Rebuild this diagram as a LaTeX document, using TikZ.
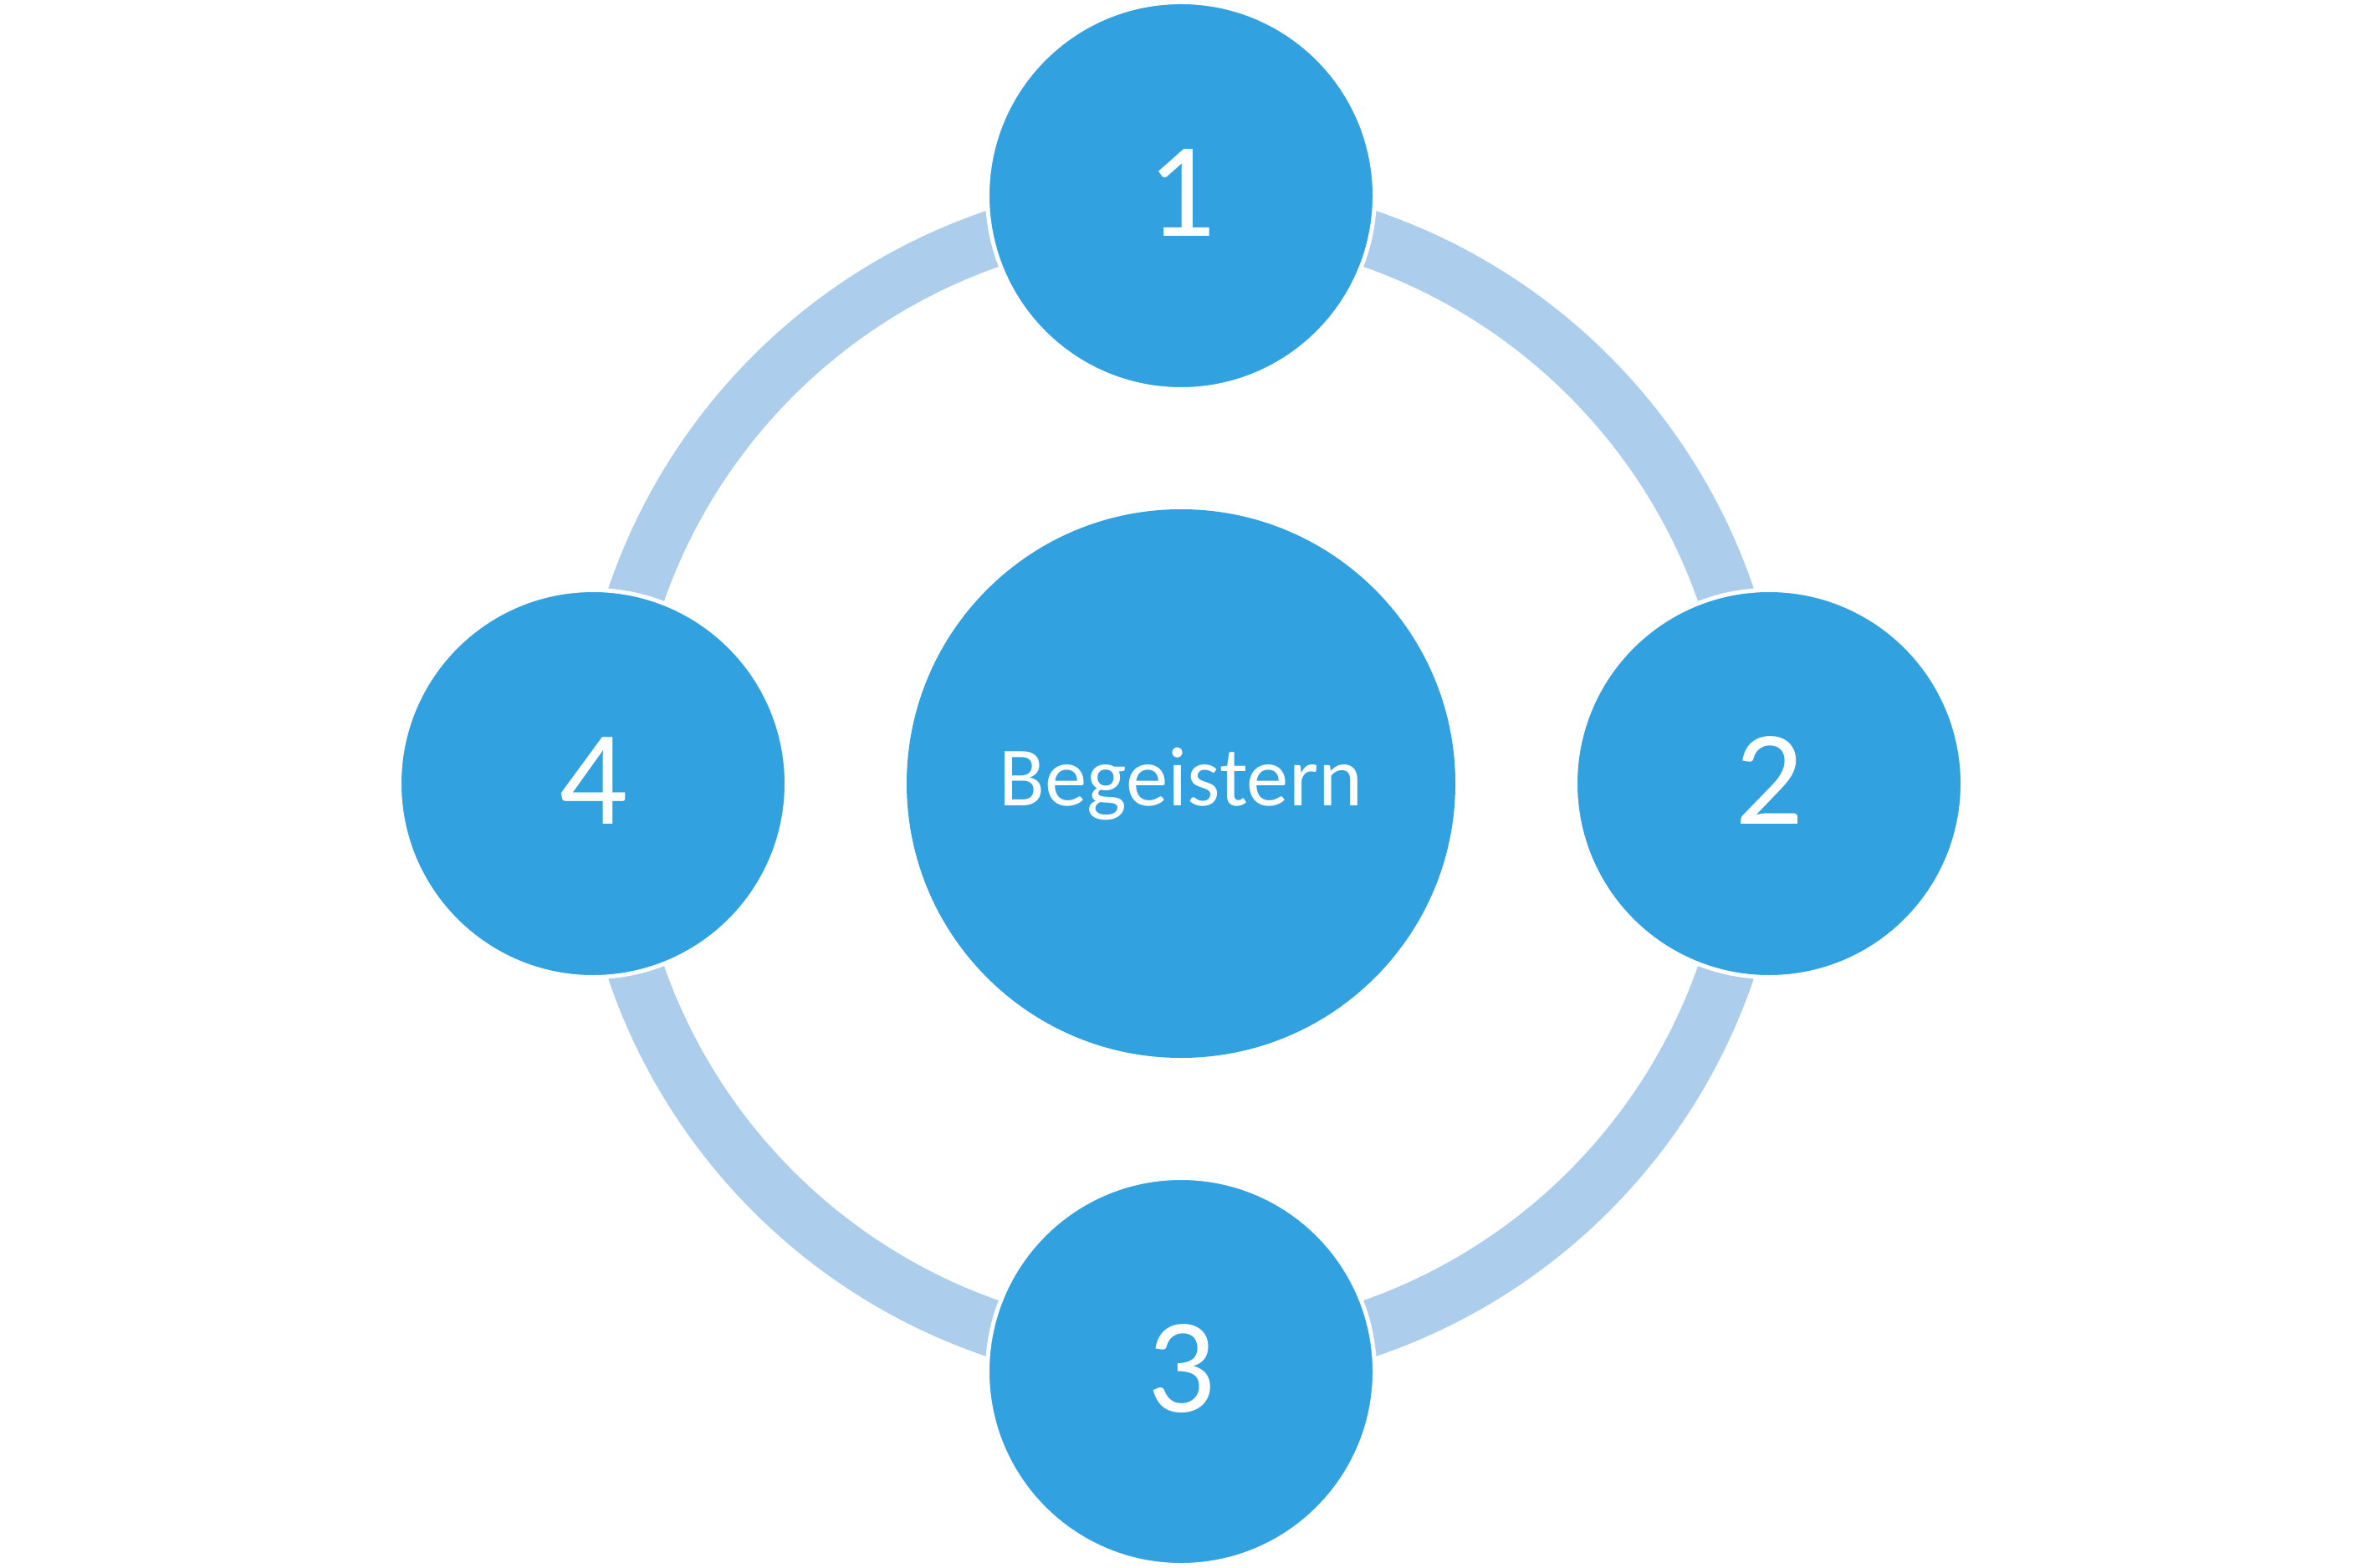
\documentclass[tikz,border=0pt]{standalone}
\usepackage{fontspec}
\setmainfont{Carlito}
\usetikzlibrary{backgrounds,calc}
\definecolor{circblue}{HTML}{31A1E0}
\definecolor{ringblue}{HTML}{ADCDEC}
\begin{document}
\begin{tikzpicture}[
  sat/.style={circle, fill=circblue, draw=white, line width=0.05cm, minimum size=4.63cm, inner sep=0pt, text=white, font=\fontsize{46pt}{50pt}\selectfont},
  hub/.style={circle, fill=circblue, minimum size=6.56cm, inner sep=0pt, text=white, font=\fontsize{28.7pt}{32pt}\selectfont},
  ringarc/.style={draw=ringblue, line width=0.68cm}
]
\useasboundingbox (0,0) rectangle (28.24,-18.74);
\node[hub] (mid) at (14.12,-9.37) {Begeistern};
\node[sat] (n1) at (14.12,-2.34) {\raisebox{0.07cm}{1}};
\node[sat] (n2) at (21.15,-9.37) {\raisebox{0.07cm}{2}};
\node[sat] (n3) at (14.12,-16.40) {\raisebox{0.07cm}{3}};
\node[sat] (n4) at (7.09,-9.37) {\raisebox{0.07cm}{4}};
\coordinate (r1) at ($(mid.center)!6.89cm!(n1.center)$);
\coordinate (r2) at ($(mid.center)!6.89cm!(n2.center)$);
\coordinate (r3) at ($(mid.center)!6.89cm!(n3.center)$);
\coordinate (r4) at ($(mid.center)!6.89cm!(n4.center)$);
\begin{pgfonlayer}{background}
\draw[ringarc] (r1) to[bend left=45] (r2);
\draw[ringarc] (r2) to[bend left=45] (r3);
\draw[ringarc] (r3) to[bend left=45] (r4);
\draw[ringarc] (r4) to[bend left=45] (r1);
\end{pgfonlayer}
\end{tikzpicture}
\end{document}
